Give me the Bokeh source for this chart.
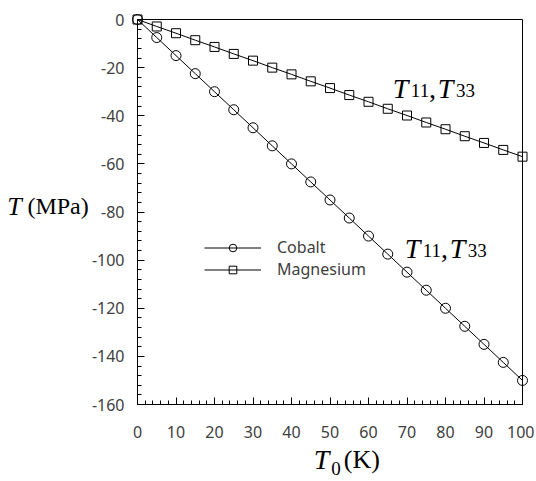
from bokeh.plotting import figure
from bokeh.models import (Range1d, SingleIntervalTicker, FixedTicker, Label, Legend, LegendItem,
                          LinearAxis, PrintfTickFormatter)
from bokeh.embed import file_html
from bokeh.resources import INLINE

# ---- data ----
T0 = [0, 5, 10, 15, 20, 25, 30, 35, 40, 45, 50, 55, 60, 65, 70, 75, 80, 85, 90, 95, 100]
cobalt = [0, -7.5, -15, -22.5, -30, -37.5, -45, -52.5, -60, -67.5, -75, -82.5, -90,
          -97.5, -105, -112.5, -120, -127.5, -135, -142.5, -150]
magnesium = [0, -2.9, -5.7, -8.6, -11.4, -14.3, -17.1, -20.0, -22.8, -25.7, -28.5, -31.4,
             -34.2, -37.1, -39.9, -42.8, -45.6, -48.5, -51.3, -54.2, -57.0]
series_names = ["Cobalt", "Magnesium"]
x_limits = (0, 100)
y_limits = (-160, 0)

W, H = 534, 479
p = figure(width=W, height=H, output_backend="svg", toolbar_location=None,
           x_range=Range1d(-137 / 3.85, (W - 137) / 3.85),
           y_range=Range1d(-(H - 19) / 2.40625, 19 / 2.40625),
           min_border_left=0, min_border_right=0, min_border_top=0, min_border_bottom=0)

p.xgrid.visible = False
p.ygrid.visible = False
p.outline_line_color = None
p.background_fill_color = "white"
p.border_fill_color = "white"

xa = p.xaxis[0]
ya = p.yaxis[0]
xa.fixed_location = y_limits[0]
xa.bounds = x_limits
ya.fixed_location = x_limits[0]
ya.bounds = y_limits
xa.ticker = SingleIntervalTicker(interval=10, num_minor_ticks=5)
ya.ticker = SingleIntervalTicker(interval=20, num_minor_ticks=5)
for ax in (xa, ya):
    ax.formatter = PrintfTickFormatter(format="%d")
    ax.axis_line_color = "black"
    ax.major_tick_line_color = "black"
    ax.minor_tick_line_color = "black"
    ax.major_tick_in = 7
    ax.major_tick_out = 0
    ax.minor_tick_in = 4
    ax.minor_tick_out = 0
    ax.major_label_text_font = "Noto Sans"
    ax.major_label_text_font_size = "16px"
    ax.major_label_text_color = "#404040"
xa.major_label_standoff = 21
ya.major_label_standoff = 13

# box: top and right edges
top = LinearAxis(fixed_location=y_limits[1], bounds=x_limits, ticker=FixedTicker(ticks=[]),
                 major_label_text_font_size="0px", major_tick_line_color=None,
                 minor_tick_line_color=None, axis_line_color="black")
right = LinearAxis(fixed_location=x_limits[1], bounds=y_limits, ticker=FixedTicker(ticks=[]),
                   major_label_text_font_size="0px", major_tick_line_color=None,
                   minor_tick_line_color=None, axis_line_color="black")
p.add_layout(top, "above")
p.add_layout(right, "right")

l1 = p.line(T0, cobalt, line_color="black", line_width=1)
s1 = p.scatter(T0, cobalt, marker="circle", size=10, line_color="black", fill_alpha=0)
l2 = p.line(T0, magnesium, line_color="black", line_width=1)
s2 = p.scatter(T0, magnesium, marker="square", size=9, line_color="black", fill_alpha=0)

def make_legend(label, renderers, y):
    return Legend(items=[LegendItem(label=label, renderers=renderers)],
                  location=(204, y), glyph_width=57, glyph_height=19, label_height=19,
                  spacing=0, padding=0, margin=0, label_standoff=16,
                  border_line_color=None, background_fill_alpha=0,
                  label_text_font="Noto Sans", label_text_font_size="16px",
                  label_text_color="#404040")

p.add_layout(make_legend(series_names[0], [l1, s1], 221))
p.add_layout(make_legend(series_names[1], [l2, s2], 199))

SERIF = "Liberation Serif"

def lab(x, y, text, size, italic=False):
    p.add_layout(Label(x=x, y=y, text=text, text_font=SERIF, text_font_size=size,
                       text_font_style="italic" if italic else "normal",
                       text_color="black", text_align="left", text_baseline="alphabetic"))

def t11t33(x, y):
    lab(x, y, "T", "28px", True)
    lab(x + 4.7, y - 0.9, "11", "19px")
    lab(x + 9.4, y, ",", "28px")
    lab(x + 11.7, y, "T", "28px", True)
    lab(x + 16.4, y - 0.9, "33", "19px")

t11t33(66.3, -28.7)
t11t33(69.4, -95.2)

# axis titles
lab(45.8, -182.9, "T", "28px", True)
lab(50.3, -186.4, "0", "19px")
lab(53.6, -182.9, "(K)", "26px")

lab(-33.8, -77.7, "T", "26px", True)
lab(-28.6, -77.7, "(MPa)", "24px")

open("out.html", "w").write(file_html(p, INLINE))
